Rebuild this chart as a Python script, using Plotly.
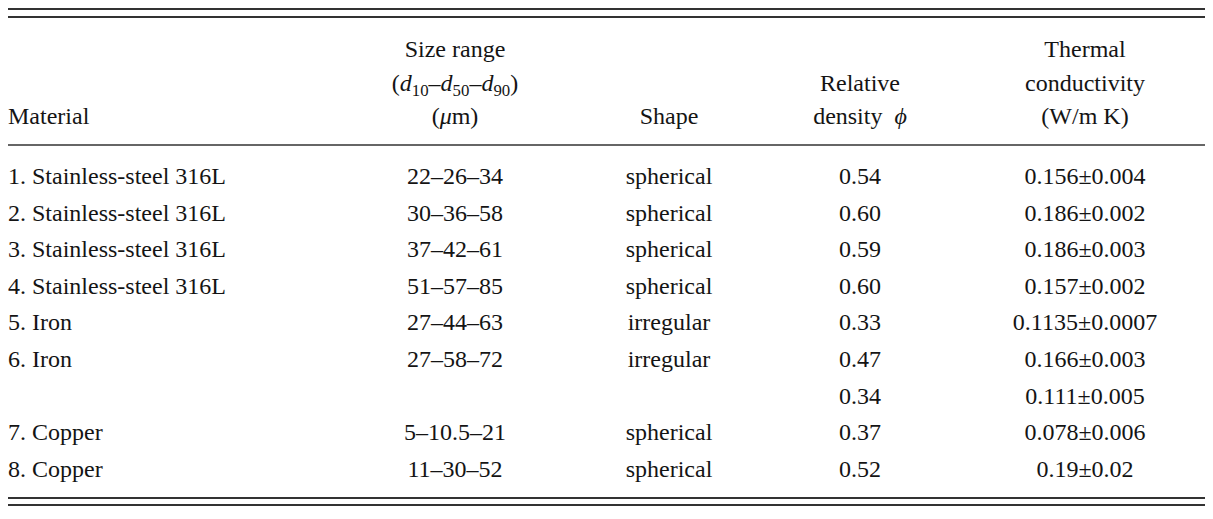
import plotly.graph_objects as go

# table content
materials = ["1. Stainless-steel 316L", "2. Stainless-steel 316L", "3. Stainless-steel 316L",
             "4. Stainless-steel 316L", "5. Iron", "6. Iron", "", "7. Copper", "8. Copper"]
size_ranges = ["22–26–34", "30–36–58", "37–42–61", "51–57–85", "27–44–63", "27–58–72",
               "", "5–10.5–21", "11–30–52"]
shapes = ["spherical", "spherical", "spherical", "spherical", "irregular", "irregular",
          "", "spherical", "spherical"]
densities = ["0.54", "0.60", "0.59", "0.60", "0.33", "0.47", "0.34", "0.37", "0.52"]
conductivities = ["0.156±0.004", "0.186±0.002", "0.186±0.003", "0.157±0.002",
                  "0.1135±0.0007", "0.166±0.003", "0.111±0.005", "0.078±0.006", "0.19±0.02"]

# header lines, bottom-aligned (top line first, "" = empty)
headers = [
    ["", "", "Material"],
    ["Size range", "(<i>d</i><sub>10</sub>–<i>d</i><sub>50</sub>–<i>d</i><sub>90</sub>)", "(<i>μ</i>m)"],
    ["", "", "Shape"],
    ["", "Relative", "density  <i>ϕ</i>"],
    ["Thermal", "conductivity", "(W/m K)"],
]

# layout (page pixel units; the page body adds an 8px offset)
W, H = 1213, 519
OFF = 8
col_x = [8, 455, 669, 860, 1085]
col_align = ["middle right", "middle center", "middle center", "middle center", "middle center"]
header_y = [51, 85, 118]
row_y0, row_step = 178, 36.6
ink = "#141414"
font = dict(family="Liberation Serif, Times New Roman, serif", size=24, color=ink)

columns = [materials, size_ranges, shapes, densities, conductivities]
row_y = [row_y0 + i * row_step for i in range(len(materials))]


def add_text(xpos, ys, texts, pos):
    keep = [(y, t) for y, t in zip(ys, texts) if t]
    fig.add_trace(go.Scatter(
        x=[xpos] * len(keep), y=[k[0] for k in keep], text=[k[1] for k in keep],
        mode="text", textposition=pos, textfont=font,
        hoverinfo="skip", showlegend=False,
    ))


fig = go.Figure()

for j, col in enumerate(columns):
    add_text(col_x[j], row_y, col, col_align[j])
    add_text(col_x[j], header_y, headers[j], col_align[j])

# horizontal rules
rules = [(9, 2), (17, 2), (145, 1.6), (498, 2), (505, 2)]
for yy, w in rules:
    fig.add_shape(type="line", x0=5, x1=1205, y0=yy, y1=yy,
                  xref="x", yref="y", line=dict(color="#333333", width=w))

fig.update_layout(
    width=W, height=H,
    margin=dict(l=0, r=0, t=0, b=0),
    paper_bgcolor="white", plot_bgcolor="white",
    xaxis=dict(range=[OFF, W + OFF], visible=False, fixedrange=True),
    yaxis=dict(range=[H + OFF, OFF], visible=False, fixedrange=True),
)

fig.write_html("out.html")
